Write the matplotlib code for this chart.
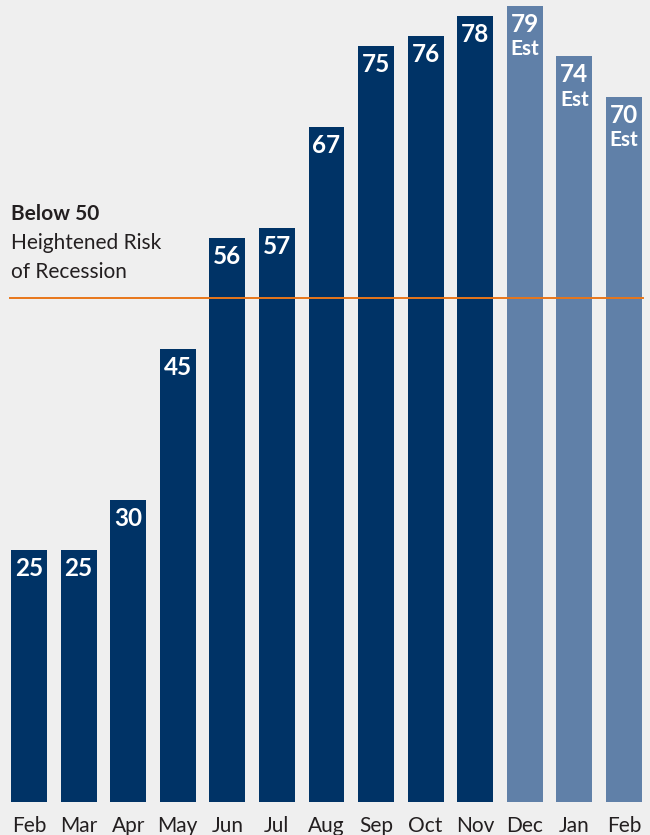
import matplotlib
matplotlib.use("Agg")
import matplotlib.pyplot as plt

months = ["Feb", "Mar", "Apr", "May", "Jun", "Jul", "Aug", "Sep", "Oct", "Nov", "Dec", "Jan", "Feb"]
values = [25, 25, 30, 45, 56, 57, 67, 75, 76, 78, 79, 74, 70]
estimated = [False] * 10 + [True] * 3
threshold = 50

BG = "#efefef"
DARK = "#003366"
LIGHT = "#6080a8"
ORANGE = "#e8761a"
TEXT = "#231f20"
FONT = ["Lato", "DejaVu Sans"]

W, H = 650, 835
fig = plt.figure(figsize=(W / 100, H / 100), dpi=100, facecolor=BG)
zero_px = 802
ax = fig.add_axes([0, (H - zero_px) / H, 1, zero_px / H])
ax.set_facecolor(BG)

x = list(range(len(months)))
colors = [LIGHT if e else DARK for e in estimated]
ax.bar(x, values, width=0.725, color=colors, zorder=2)

ax.set_xlim(-0.585, 12.524)
ax.set_ylim(0, 79.6)
for s in ax.spines.values():
    s.set_visible(False)
ax.set_xticks([])
ax.set_yticks([])

# threshold line across bars
ax.plot([-0.38, 12.38], [threshold, threshold], color=ORANGE, lw=1.4, zorder=3)

for i, (v, e) in enumerate(zip(values, estimated)):
    ax.annotate(str(v), xy=(i, v), xytext=(0, -5), textcoords="offset points",
                ha="center", va="top", color="white", fontsize=17.5,
                fontweight="bold", family=FONT, zorder=4)
    if e:
        ax.annotate("Est", xy=(i, v), xytext=(0, -24), textcoords="offset points",
                    ha="center", va="top", color="white", fontsize=15,
                    fontweight="bold", family=FONT, zorder=4)

# month labels
for i, m in enumerate(months):
    xp = ax.transData.transform((i, 0))[0] / W
    fig.text(xp, 1 - 832 / H, m, ha="center", va="baseline", fontsize=15,
             color=TEXT, family=FONT)

fig.text(11 / W, 1 - 220 / H, "Below 50", ha="left", va="baseline", fontsize=15,
         fontweight="bold", color=TEXT, family=FONT)
fig.text(11 / W, 1 - 249 / H, "Heightened Risk", ha="left", va="baseline", fontsize=15,
         color=TEXT, family=FONT)
fig.text(11 / W, 1 - 278 / H, "of Recession", ha="left", va="baseline", fontsize=15,
         color=TEXT, family=FONT)

fig.savefig("out.png", dpi=100, facecolor=BG)
